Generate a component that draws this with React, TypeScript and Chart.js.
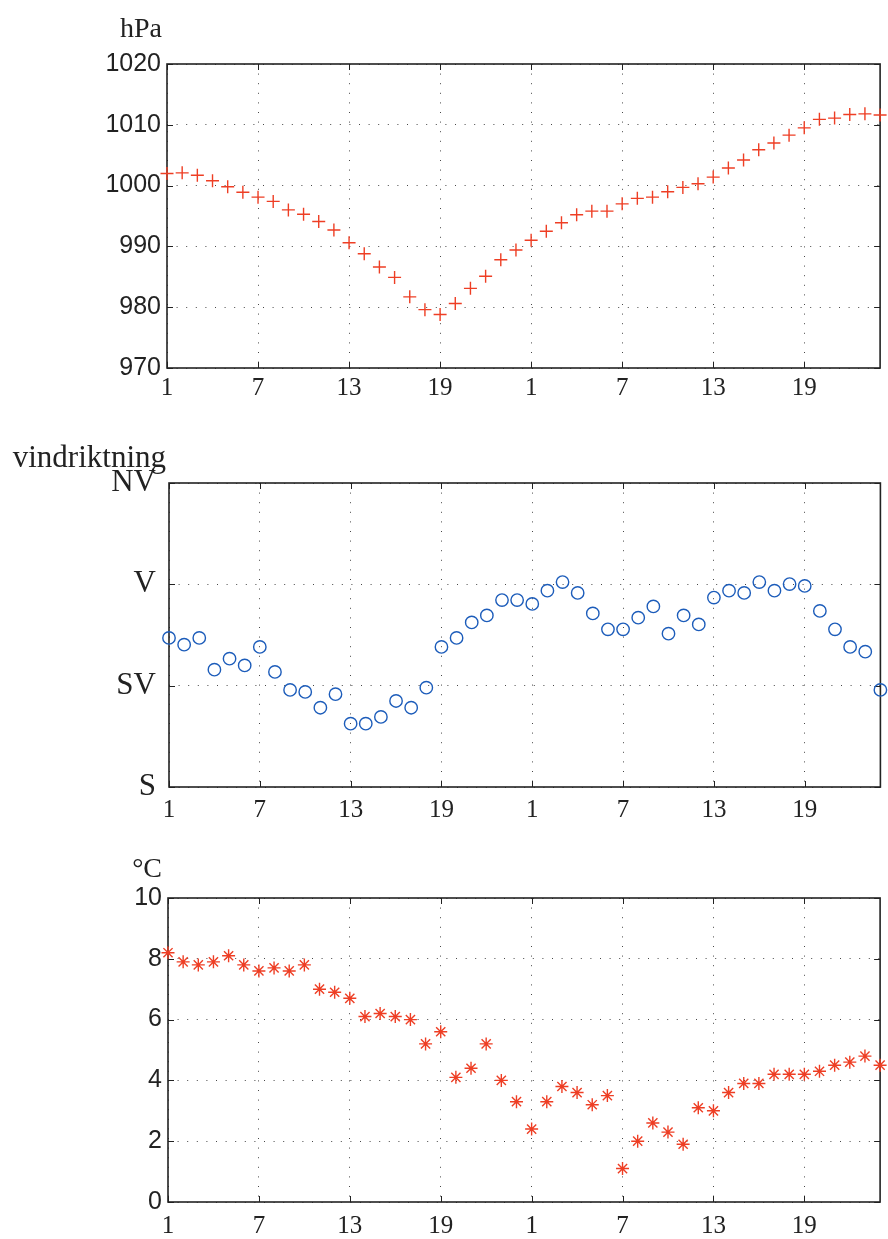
import React, { useEffect, useRef } from "react";
import { Chart, registerables } from "chart.js";

Chart.register(...registerables);

// hour of day for each of the 48 observations (two days)
const hours = [
  1, 2, 3, 4, 5, 6, 7, 8, 9, 10, 11, 12, 13, 14, 15, 16, 17, 18, 19, 20, 21, 22, 23, 24,
  1, 2, 3, 4, 5, 6, 7, 8, 9, 10, 11, 12, 13, 14, 15, 16, 17, 18, 19, 20, 21, 22, 23, 24,
];

const pressure = [
  1002.0, 1002.1, 1001.7, 1000.8, 999.8, 998.9, 998.1, 997.4, 996.0, 995.3,
  994.1, 992.7, 990.6, 988.8, 986.6, 984.9, 981.7, 979.6, 978.8, 980.6,
  983.1, 985.1, 987.8, 989.4, 991.0, 992.5, 993.9, 995.2, 995.8, 995.8,
  997.0, 997.9, 998.1, 999.0, 999.7, 1000.3, 1001.4, 1002.9, 1004.2, 1005.9,
  1007.0, 1008.3, 1009.5, 1010.9, 1011.1, 1011.7, 1011.8, 1011.6,
];

// wind direction in degrees (S = 180, SV = 225, V = 270, NV = 315)
const windDir = [
  246.2, 243.2, 246.2, 232.1, 237.0, 234.0, 242.2, 231.1, 223.1, 222.2,
  215.2, 221.2, 208.1, 208.1, 211.1, 218.2, 215.2, 224.1, 242.2, 246.2,
  253.1, 256.2, 263.0, 263.0, 261.3, 267.2, 271.0, 266.2, 257.1, 250.0,
  250.0, 255.2, 260.2, 248.1, 256.2, 252.2, 264.1, 267.2, 266.2, 271.0,
  267.2, 270.1, 269.3, 258.2, 250.0, 242.2, 240.1, 223.1,
];

const temperature = [
  8.2, 7.9, 7.8, 7.9, 8.1, 7.8, 7.6, 7.7, 7.6, 7.8,
  7.0, 6.9, 6.7, 6.1, 6.2, 6.1, 6.0, 5.2, 5.6, 4.1,
  4.4, 5.2, 4.0, 3.3, 2.4, 3.3, 3.8, 3.6, 3.2, 3.5,
  1.1, 2.0, 2.6, 2.3, 1.9, 3.1, 3.0, 3.6, 3.9, 3.9,
  4.2, 4.2, 4.2, 4.3, 4.5, 4.6, 4.8, 4.5,
];

const xTickIndex = [0, 6, 12, 18, 24, 30, 36, 42];
const xTickLabels = ["1", "7", "13", "19", "1", "7", "13", "19"];

const pressureTicks = [970, 980, 990, 1000, 1010, 1020];
const windTickValues = [180, 225, 270, 315];
const windTickLabels = ["S", "SV", "V", "NV"];
const tempTicks = [0, 2, 4, 6, 8, 10];

const RED = "rgb(238,62,36)";
const BLUE = "rgb(28,92,186)";
const INK = "#222";
const SERIF = "'Liberation Serif', 'DejaVu Serif', serif";
const SANS = "'Liberation Sans', Arial, sans-serif";

const framePlugin = {
  id: "frame",
  beforeDatasetsDraw(chart: any, _args: any, opts: any) {
    const { ctx, chartArea: a, scales } = chart;
    ctx.save();
    ctx.strokeStyle = INK;
    ctx.lineWidth = 1;
    const L = 6;
    ctx.beginPath();
    for (const t of scales.x.ticks) {
      const px = Math.round(scales.x.getPixelForValue(t.value)) + 0.5;
      ctx.moveTo(px, a.bottom);
      ctx.lineTo(px, a.bottom - L);
      ctx.moveTo(px, a.top);
      ctx.lineTo(px, a.top + L);
    }
    for (const t of scales.y.ticks) {
      const py = Math.round(scales.y.getPixelForValue(t.value)) + 0.5;
      ctx.moveTo(a.left, py);
      ctx.lineTo(a.left + L, py);
      ctx.moveTo(a.right, py);
      ctx.lineTo(a.right - L, py);
    }
    ctx.stroke();
    ctx.lineWidth = 1.6;
    ctx.strokeRect(a.left, a.top, a.right - a.left, a.bottom - a.top);
    ctx.font = opts.font;
    ctx.fillStyle = INK;
    ctx.textAlign = "right";
    ctx.textBaseline = "alphabetic";
    ctx.fillText(opts.title, opts.titleX, opts.titleY);
    ctx.restore();
  },
};

type PanelProps = {
  top: number;
  height: number;
  area: { left: number; right: number; top: number; bottom: number };
  values: number[];
  yMin: number;
  yMax: number;
  yTicks: number[];
  yLabels: string[];
  yFont: { family: string; size: number };
  yPad: number;
  xPad: number;
  pointStyle: string;
  color: string;
  radius: number;
  title: string;
  titleFont: string;
  titleX: number;
  titleY: number;
};

function Panel(p: PanelProps) {
  const ref = useRef<HTMLCanvasElement | null>(null);
  useEffect(() => {
    if (!ref.current) return;
    const xAxisH = 40;
    const data = p.values.map((v, i) => ({ x: i, y: v, h: hours[i] }));
    const chart = new Chart(ref.current, {
      type: "scatter",
      data: {
        datasets: [
          {
            data,
            pointStyle: p.pointStyle as any,
            pointRadius: p.radius,
            pointHoverRadius: p.radius,
            borderColor: p.color,
            backgroundColor: "rgba(0,0,0,0)",
            pointBorderWidth: 1.4,
            clip: false as any,
          },
        ],
      },
      options: {
        animation: false,
        responsive: false,
        events: [],
        layout: {
          padding: {
            left: 0,
            right: 888 - p.area.right,
            top: p.area.top,
            bottom: p.height - p.area.bottom - xAxisH,
          },
        },
        plugins: {
          legend: { display: false },
          tooltip: { enabled: false },
          frame: {
            title: p.title,
            font: p.titleFont,
            titleX: p.titleX,
            titleY: p.titleY,
          },
        } as any,
        scales: {
          x: {
            type: "linear",
            min: 0,
            max: 47,
            afterBuildTicks: (s: any) => {
              s.ticks = xTickIndex.map((v) => ({ value: v }));
            },
            afterFit: (s: any) => {
              s.height = xAxisH;
            },
            ticks: {
              autoSkip: false,
              maxRotation: 0,
              padding: p.xPad,
              color: INK,
              font: { family: SERIF, size: 25 },
              callback: (v: any) => {
                const k = xTickIndex.indexOf(Number(v));
                return k >= 0 ? xTickLabels[k] : "";
              },
            },
            grid: {
              drawTicks: false,
              color: "rgba(40,40,40,0.85)",
              lineWidth: 1,
            },
            border: { display: false, dash: [1, 8.6] },
          },
          y: {
            type: "linear",
            min: p.yMin,
            max: p.yMax,
            afterBuildTicks: (s: any) => {
              s.ticks = p.yTicks.map((v) => ({ value: v }));
            },
            afterFit: (s: any) => {
              s.width = p.area.left;
            },
            ticks: {
              autoSkip: false,
              padding: p.yPad,
              color: INK,
              font: p.yFont,
              callback: (v: any) => {
                const k = p.yTicks.indexOf(Number(v));
                return k >= 0 ? p.yLabels[k] : "";
              },
            },
            grid: {
              drawTicks: false,
              color: "rgba(40,40,40,0.85)",
              lineWidth: 1,
            },
            border: { display: false, dash: [1, 8.6] },
          },
        },
      },
      plugins: [framePlugin as any],
    });
    return () => chart.destroy();
  }, []);
  return (
    <canvas
      ref={ref}
      width={888}
      height={p.height}
      style={{ position: "absolute", left: 0, top: p.top, width: 888, height: p.height }}
    />
  );
}

export default function App() {
  return (
    <div style={{ position: "absolute", left: 0, top: 0, width: 888, height: 1239, background: "#fff", overflow: "hidden" }}>
      <Panel
        top={0}
        height={410}
        area={{ left: 167, right: 884, top: 64, bottom: 368 }}
        values={pressure}
        yMin={970}
        yMax={1020}
        yTicks={pressureTicks}
        yLabels={pressureTicks.map(String)}
        yFont={{ family: SANS, size: 25 }}
        yPad={6}
        xPad={5}
        pointStyle="cross"
        color={RED}
        radius={6.5}
        title="hPa"
        titleFont={`28px ${SERIF}`}
        titleX={162}
        titleY={37}
      />
      <Panel
        top={420}
        height={410}
        area={{ left: 169, right: 886, top: 63, bottom: 367 }}
        values={windDir}
        yMin={180}
        yMax={315}
        yTicks={windTickValues}
        yLabels={windTickLabels}
        yFont={{ family: SERIF, size: 31 }}
        yPad={13}
        xPad={8}
        pointStyle="circle"
        color={BLUE}
        radius={6.2}
        title="vindriktning"
        titleFont={`31px ${SERIF}`}
        titleX={166}
        titleY={47}
      />
      <Panel
        top={830}
        height={409}
        area={{ left: 168, right: 884, top: 68, bottom: 372 }}
        values={temperature}
        yMin={0}
        yMax={10}
        yTicks={tempTicks}
        yLabels={tempTicks.map(String)}
        yFont={{ family: SANS, size: 25 }}
        yPad={6}
        xPad={9}
        pointStyle="star"
        color={RED}
        radius={6.5}
        title="°C"
        titleFont={`28px ${SERIF}`}
        titleX={162}
        titleY={47}
      />
    </div>
  );
}
